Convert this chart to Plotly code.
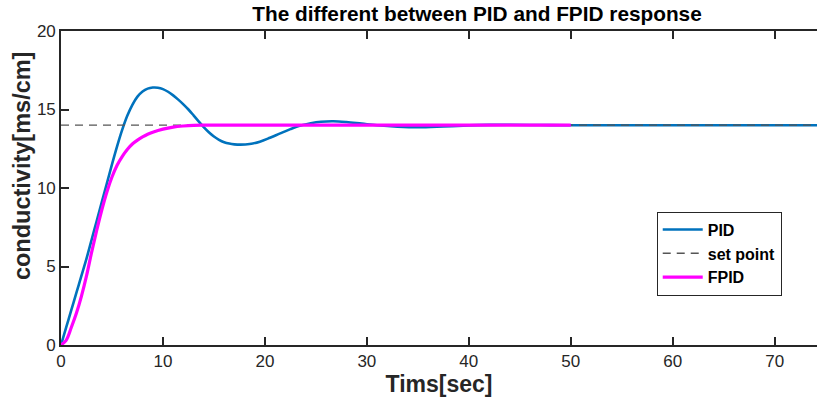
import plotly.graph_objects as go

# PID response
pid_t = [0, 0.5, 1, 1.5, 2, 2.5, 3, 3.5, 4, 4.5, 5, 5.5, 6, 6.5, 7, 7.5, 8, 8.5, 9,
         9.5, 10, 10.5, 11, 11.5, 12, 12.5, 13, 13.5, 14, 14.5, 15, 15.5, 16, 16.5, 17,
         17.6, 18.5, 19.5, 20.5, 21.5, 22.5, 23.5, 24.5, 25.5, 26.7, 28.0, 29.5, 31.0,
         33.0, 35.0, 37.5, 40.0, 42.0, 44.0, 47.0, 50.0, 55.0, 60.0, 65.0, 70.0, 74.5]
pid_v = [0, 1.1, 2.2, 3.3, 4.4, 5.5, 6.7, 7.9, 9.1, 10.3, 11.5, 12.65, 13.7, 14.6,
         15.3, 15.82, 16.15, 16.33, 16.4,
         16.39, 16.3, 16.13, 15.9, 15.63, 15.33, 15.0, 14.63, 14.25, 13.88, 13.55, 13.28,
         13.07, 12.92, 12.83, 12.78,
         12.76, 12.8, 12.95, 13.2, 13.48, 13.75, 13.98, 14.13, 14.22, 14.25, 14.2, 14.1, 14.0,
         13.91, 13.87, 13.92, 13.99, 14.02, 14.03, 14.01, 14.0, 14.0, 14.0, 14.0, 14.0, 14.0]

# fuzzy PID response
fpid_t = [0, 0.5, 1, 1.5, 2, 2.5, 3, 3.5, 4, 4.5, 5, 5.5, 6, 6.5, 7, 7.5, 8, 8.5, 9,
          10, 11, 12, 13, 14, 16, 20, 30, 40, 50]
fpid_v = [0, 0.3, 1.1, 2.0, 3.1, 4.4, 5.9, 7.3, 8.6, 9.75, 10.7, 11.45, 12.0, 12.45,
          12.8, 13.05, 13.25, 13.42, 13.55, 13.75, 13.88, 13.95, 13.99, 14.0, 14.0,
          14.0, 14.0, 14.0, 14.0]

# set point
sp_t = [0, 74.5]
sp_v = [14, 14]

x_ticks = [0, 10, 20, 30, 40, 50, 60, 70]
y_ticks = [0, 5, 10, 15, 20]

fig = go.Figure()
fig.add_trace(go.Scatter(x=pid_t, y=pid_v, mode='lines', name='PID',
                         line=dict(color='#0072BD', width=2.6, shape='spline', smoothing=1)))
fig.add_trace(go.Scatter(x=sp_t, y=sp_v, mode='lines', name='set point',
                         line=dict(color='#555555', width=1.3, dash='8px,6px')))
fig.add_trace(go.Scatter(x=fpid_t, y=fpid_v, mode='lines', name='FPID',
                         line=dict(color='#FF00FF', width=3.2, shape='spline', smoothing=1)))

axis_common = dict(showgrid=False, zeroline=False, showline=True, linecolor='#262626',
                   linewidth=1.6, ticks='inside', ticklen=8, tickwidth=1.6,
                   tickcolor='#262626', automargin=False,
                   tickfont=dict(family='Liberation Sans', size=17, color='#262626'))

fig.update_xaxes(range=[0, 74.15], tickvals=x_ticks, mirror='ticks',
                 title=dict(text='<b>Tims[sec]</b>', standoff=6,
                            font=dict(family='Liberation Sans', size=23, color='#262626')),
                 **axis_common)
fig.update_yaxes(range=[0, 20], tickvals=y_ticks, mirror=False, **axis_common)

# y label sits a bit above the axis middle in the original, so place it by hand
fig.add_annotation(text='<b>conductivity[ms/cm]</b>', textangle=-90,
                   xref='paper', yref='paper', x=-0.0516, y=0.573,
                   xanchor='center', yanchor='middle', showarrow=False,
                   font=dict(family='Liberation Sans', size=23.5, color='#262626'))

fig.update_layout(
    width=817, height=403,
    margin=dict(l=61, r=0, t=31, b=58, autoexpand=False),
    paper_bgcolor='white', plot_bgcolor='white',
    title=dict(text='<b>The different between PID and FPID response</b>',
               x=477 / 817, xanchor='center', y=0.985, yanchor='top',
               font=dict(family='Liberation Sans', size=20.8, color='black')),
    legend=dict(x=0.788, y=0.425, xanchor='left', yanchor='top',
                bgcolor='white', bordercolor='#262626', borderwidth=1,
                font=dict(family='Liberation Sans', size=16, color='black'),
                itemwidth=40, tracegroupgap=0),
    showlegend=True,
)

# bold legend entries
for tr in fig.data:
    tr.name = '<b>' + tr.name + '</b>'

# page has a default body margin which squeezes the figure, drop it
fix_js = ("document.body.style.margin='0px';"
          "var gd=document.getElementById('{plot_id}');"
          "Plotly.relayout(gd,{width:817,height:403});")

fig.write_html("out.html", config={'responsive': False, 'displayModeBar': False},
               post_script=fix_js)
